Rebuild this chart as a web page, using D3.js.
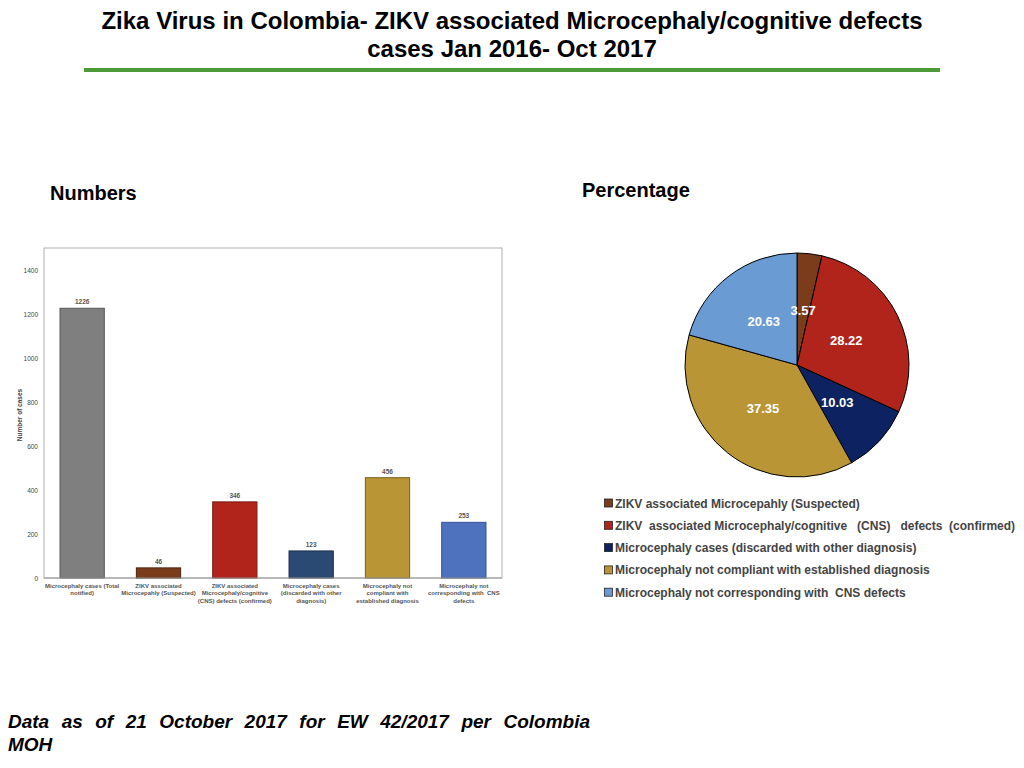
<!DOCTYPE html>
<html>
<head>
<meta charset="utf-8">
<script src="https://cdn.jsdelivr.net/npm/d3@7"></script>
<style>
  body { margin: 0; background: #fff; }
  svg { display: block; font-family: "Liberation Sans", Arial, sans-serif; }
</style>
</head>
<body>
<svg width="1024" height="768"></svg>
<script>
(function() {
    'use strict';

    // bar chart data
    let barLabels = [
        ["Microcephaly cases (Total", "notified)"],
        ["ZIKV associated", "Microcepahly (Suspected)"],
        ["ZIKV associated", "Microcephaly/cognitive", "(CNS) defects (confirmed)"],
        ["Microcephaly cases", "(discarded with other", "diagnosis)"],
        ["Microcephaly not", "compliant with", "established diagnosis"],
        ["Microcephaly not", "corresponding with  CNS", "defects"]
    ];
    let barValues = [1226, 46, 346, 123, 456, 253];
    let barColors = ["#7f7f7f", "#7b3c1c", "#b0241c", "#2b4a73", "#b99535", "#4f72be"];
    let barStrokes = ["#555555", "#4a2410", "#7a1812", "#1a2f4d", "#7a6222", "#365091"];
    let yTicks = [0, 200, 400, 600, 800, 1000, 1200, 1400];

    // pie chart data
    let pieLabels = [
        "ZIKV associated Microcepahly (Suspected)",
        "ZIKV  associated Microcephaly/cognitive   (CNS)   defects  (confirmed)",
        "Microcephaly cases (discarded with other diagnosis)",
        "Microcephaly not compliant with established diagnosis",
        "Microcephaly not corresponding with  CNS defects"
    ];
    let pieValues = [3.57, 28.22, 10.03, 37.35, 20.63];
    let pieColors = ["#7b3c1c", "#b0241c", "#0d2260", "#b99535", "#6a9bd2"];

    let svg = d3.select("svg");

    // title
    let titleLines = ["Zika Virus in Colombia- ZIKV associated Microcephaly/cognitive defects",
                      "cases Jan 2016- Oct 2017"];
    svg.selectAll("text.title").data(titleLines).enter().append("text")
        .attr("class", "title")
        .attr("x", 512)
        .attr("y", (d, i) => 29 + i * 28)
        .attr("text-anchor", "middle")
        .style("font-size", "24px")
        .style("font-weight", "bold")
        .attr("fill", "#000")
        .text(d => d);

    svg.append("rect")
        .attr("x", 84).attr("y", 68)
        .attr("width", 856).attr("height", 4)
        .attr("fill", "#4d9a36");

    svg.append("text")
        .attr("x", 50).attr("y", 200)
        .style("font-size", "20px").style("font-weight", "bold")
        .text("Numbers");

    svg.append("text")
        .attr("x", 582).attr("y", 197)
        .style("font-size", "20px").style("font-weight", "bold")
        .text("Percentage");

    // ---- bar chart ----
    let frame = {left: 44, top: 248, right: 502, bottom: 578};

    svg.append("rect")
        .attr("x", frame.left).attr("y", frame.top)
        .attr("width", frame.right - frame.left)
        .attr("height", frame.bottom - frame.top)
        .attr("fill", "none")
        .attr("stroke", "#b0b0b0")
        .attr("stroke-width", 1);

    let xScale = d3.scaleBand()
        .domain(d3.range(barValues.length))
        .range([frame.left, frame.right])
        .paddingInner(0.42)
        .paddingOuter(0.21);

    let yScale = d3.scaleLinear()
        .domain([0, 1500])
        .range([frame.bottom, frame.top]);

    let yAxis = svg.append("g")
        .attr("transform", `translate(${frame.left},0)`)
        .call(d3.axisLeft(yScale).tickValues(yTicks).tickFormat(d3.format("d")).tickSize(0).tickPadding(6));
    yAxis.select(".domain").remove();
    yAxis.selectAll("text")
        .style("font-size", "6.5px")
        .style("font-family", "'Liberation Sans', Arial, sans-serif")
        .attr("fill", "#444");

    svg.append("text")
        .attr("text-anchor", "middle")
        .attr("transform", `translate(22,${(frame.top + frame.bottom) / 2 + 2})rotate(-90)`)
        .style("font-size", "6.5px").style("font-weight", "bold")
        .attr("fill", "#444")
        .text("Number of cases");

    svg.selectAll("rect.bar").data(barValues).enter().append("rect")
        .attr("class", "bar")
        .attr("x", (d, i) => xScale(i))
        .attr("y", d => yScale(d))
        .attr("width", xScale.bandwidth())
        .attr("height", d => yScale(0) - yScale(d))
        .attr("fill", (d, i) => barColors[i])
        .attr("stroke", (d, i) => barStrokes[i])
        .attr("stroke-width", 1);

    svg.selectAll("text.val").data(barValues).enter().append("text")
        .attr("class", "val")
        .attr("x", (d, i) => xScale(i) + xScale.bandwidth() / 2)
        .attr("y", d => yScale(d) - 4)
        .attr("text-anchor", "middle")
        .style("font-size", "6.5px").style("font-weight", "bold")
        .attr("fill", "#555")
        .text(d => d);

    // bottom axis line
    svg.append("line")
        .attr("x1", frame.left).attr("x2", frame.right)
        .attr("y1", yScale(0)).attr("y2", yScale(0))
        .attr("stroke", "#999").attr("stroke-width", 1.2);

    let xl = svg.selectAll("text.xl").data(barLabels).enter().append("text")
        .attr("class", "xl")
        .attr("text-anchor", "middle")
        .style("font-size", "6px").style("font-weight", "bold")
        .attr("fill", "#555");
    xl.selectAll("tspan").data((d, i) => d.map(s => ({s: s, i: i}))).enter().append("tspan")
        .attr("x", d => xScale(d.i) + xScale.bandwidth() / 2)
        .attr("y", (d, j) => 588 + j * 7.3)
        .style("white-space", "pre")
        .text(d => d.s);

    // ---- pie chart ----
    let cx = 797, cy = 365, radius = 112;
    let pie = d3.pie().sort(null).value(d => d);
    let arc = d3.arc().innerRadius(0).outerRadius(radius);
    let labelArc = d3.arc().innerRadius(radius * 0.49).outerRadius(radius * 0.49);

    let pg = svg.append("g").attr("transform", `translate(${cx},${cy})`);
    let arcs = pie(pieValues);
    pg.selectAll("path").data(arcs).enter().append("path")
        .attr("d", arc)
        .attr("fill", (d, i) => pieColors[i])
        .attr("stroke", "#000")
        .attr("stroke-width", 1);

    pg.selectAll("text").data(arcs).enter().append("text")
        .attr("transform", d => `translate(${labelArc.centroid(d)})`)
        .attr("text-anchor", "middle")
        .attr("dy", "0.35em")
        .style("font-size", "13px").style("font-weight", "bold")
        .attr("fill", "#fff")
        .text(d => d.data.toFixed(2));

    // legend
    let lg = svg.append("g");
    let rows = lg.selectAll("g").data(pieLabels).enter().append("g")
        .attr("transform", (d, i) => `translate(604,${503 + i * 22.3})`);
    rows.append("rect")
        .attr("x", 0.5).attr("y", -4)
        .attr("width", 8).attr("height", 8)
        .attr("fill", (d, i) => pieColors[i])
        .attr("stroke", "#222").attr("stroke-width", 0.8);
    rows.append("text")
        .attr("x", 11).attr("y", 4.5)
        .style("font-size", "12px").style("font-weight", "bold")
        .style("white-space", "pre")
        .attr("fill", "#444")
        .text(d => d);

    // footnote, justified first line
    let noteLines = ["Data as of 21 October 2017 for EW 42/2017 per Colombia", "MOH"];
    let notes = svg.selectAll("text.note").data(noteLines).enter().append("text")
        .attr("class", "note")
        .attr("x", 8)
        .attr("y", (d, i) => 728 + i * 23)
        .style("font-size", "19px").style("font-weight", "bold").style("font-style", "italic")
        .text(d => d);
    let first = notes.filter((d, i) => i === 0);
    let natural = first.node().getComputedTextLength();
    let gaps = noteLines[0].split(" ").length - 1;
    first.attr("word-spacing", (582 - natural) / gaps);
})();
</script>
</body>
</html>
